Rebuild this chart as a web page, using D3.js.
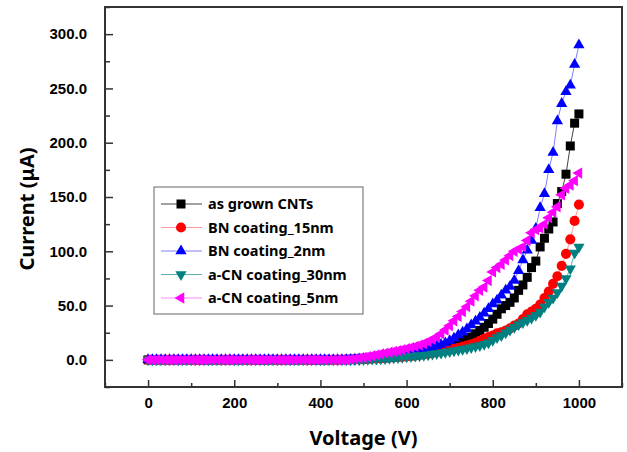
<!DOCTYPE html>
<html lang="en">
<head>
<meta charset="UTF-8">
<title>I-V curves</title>
<script src="https://d3js.org/d3.v7.min.js"></script>
<style>
  body { margin: 0; background: #fff; }
  .tick text { font-family: "Liberation Sans", Arial, sans-serif; font-weight: bold; font-size: 15px; fill: #000; }
  .title { font-family: "Noto Sans", "Open Sans", sans-serif; font-weight: bold; font-size: 20px; fill: #000; }
  .legend text { font-family: "Noto Sans", "Open Sans", sans-serif; font-weight: bold; font-size: 14.5px; fill: #000; }
</style>
</head>
<body>
<svg id="chart" width="627" height="452"></svg>
<script>
// voltage sweep (V)
const voltage = [0,10,20,30,40,50,60,70,80,90,
  100,110,120,130,140,150,160,170,180,190,
  200,210,220,230,240,250,260,270,280,290,
  300,310,320,330,340,350,360,370,380,390,
  400,410,420,430,440,450,460,470,480,490,
  500,510,520,530,540,550,560,570,580,590,
  600,610,620,630,640,650,660,670,680,690,
  700,710,720,730,740,750,760,770,780,790,
  800,810,820,830,840,850,860,870,880,890,
  900,910,920,930,940,950,960,970,980,990,
  1000];

// current (uA) per sample
const asGrown = [0,0,0,0,0,0,0,0,0,0, 0,0,0,0,0,0,0,0,0,0, 0,0,0,0,0,0,0,0,0,0, 0,0,0,0,0,0,0,0,0,0,
  0.1,0.1,0.2,0.2,0.3,0.3,0.4,0.5,0.6,0.7,
  0.8,1.0,1.2,1.4,1.7,2.0,2.3,2.7,3.1,3.5,
  4.0,4.6,5.2,6.0,6.9,7.8,8.9,9.8,10.8,11.8,
  12.8,13.8,15.0,16.6,18.8,21.0,24.0,27.0,30.0,33.5,
  37.5,42.0,47.0,50.0,53.0,57.0,64.0,69.0,76.0,85.0,
  91.0,104.0,112.0,120.5,127.0,144.0,155.0,171.0,197.0,218.0,
  226.5];
const bn15 = [0,0,0,0,0,0,0,0,0,0, 0,0,0,0,0,0,0,0,0,0, 0,0,0,0,0,0,0,0,0,0, 0,0,0,0,0,0,0,0,0,0,
  0,0,0,0,0,0.1,0.2,0.3,0.4,0.5,
  0.6,0.8,1.0,1.2,1.4,1.6,1.9,2.2,2.5,2.8,
  3.1,3.5,3.9,4.4,5.0,5.6,6.3,7.0,7.8,8.5,
  9.3,10.2,11.1,12.1,13.2,14.4,15.6,17.5,19.5,21.0,
  22.5,24.5,25.5,27.0,29.0,31.5,33.5,37.5,42.0,44.5,
  47.0,51.0,57.0,63.0,70.0,77.0,86.6,97.6,111.0,128.0,
  143.0];
const bn2 = [0,0,0,0,0,0,0,0,0,0, 0,0,0,0,0,0,0,0,0,0, 0,0,0,0,0,0,0,0,0,0, 0,0,0,0,0,0,0,0,0,0,
  0,0,0,0,0,0.1,0.2,0.3,0.5,0.7,
  0.9,1.1,1.4,1.7,2.0,2.4,2.8,3.2,3.7,4.2,
  4.8,5.5,6.3,7.2,8.5,10.0,11.5,12.8,14.2,15.6,
  17.5,20.0,23.0,25.5,28.5,32.0,35.5,39.0,43.0,47.0,
  51.5,55.0,59.5,64.0,67.5,73.0,82.0,92.0,101.0,110.0,
  121.0,140.0,153.0,175.0,191.0,220.0,236.0,247.0,253.0,272.0,
  290.0];
const acn30 = [0,0,0,0,0,0,0,0,0,0, 0,0,0,0,0,0,0,0,0,0, 0,0,0,0,0,0,0,0,0,0, 0,0,0,0,0,0,0,0,0,0,
  0,0,0,0,0,0,0,0,0,0,
  0.3,0.5,0.7,0.9,1.1,1.3,1.6,1.9,2.2,2.5,
  2.8,3.1,3.5,3.9,4.3,4.8,5.3,5.8,6.4,7.0,
  7.6,8.3,9.0,9.7,10.5,11.3,12.2,13.2,14.3,15.8,
  18.0,20.5,22.5,25.0,27.5,30.0,32.5,34.5,36.5,38.5,
  41.0,44.0,49.0,53.0,57.0,62.0,68.0,75.0,84.0,98.5,
  104.0];
const acn5 = [0,0,0,0,0,0,0,0,0,0, 0,0,0,0,0,0,0,0,0,0, 0,0,0,0,0,0,0,0,0,0, 0,0,0,0,0,0,0,0,0,0,
  0,0,0,0,0,0,0,0.5,1.0,1.6,
  2.3,3.0,3.8,4.6,5.4,6.2,7.0,7.8,8.6,9.4,
  10.3,11.3,12.4,13.6,15.0,16.8,18.8,21.0,24.0,27.5,
  31.5,36.0,40.0,44.5,49.0,54.0,59.0,64.0,67.0,73.0,
  81.0,85.0,88.0,92.0,96.0,100.0,102.0,104.0,110.0,117.0,
  120.0,121.5,125.0,131.0,136.0,141.0,152.0,158.0,161.0,165.0,
  172.0];

const seriesNames = ["as grown CNTs", "BN coating_15nm", "BN coating_2nm", "a-CN coating_30nm", "a-CN coating_5nm"];
const xTicks = [0, 200, 400, 600, 800, 1000];
const yTicks = [0, 50, 100, 150, 200, 250, 300];

// styling per series
const series = [
  {name: seriesNames[0], values: asGrown, color: "#000000", line: "#444444", shape: d3.symbolSquare, size: 81, rot: 0},
  {name: seriesNames[1], values: bn15, color: "#ff0000", line: "#ff9a9a", shape: d3.symbolCircle, size: 80, rot: 0},
  {name: seriesNames[2], values: bn2, color: "#0000ff", line: "#8080ff", shape: d3.symbolTriangle, size: 55, rot: 0},
  {name: seriesNames[3], values: acn30, color: "#008080", line: "#60b0b0", shape: d3.symbolTriangle, size: 55, rot: 180},
  {name: seriesNames[4], values: acn5, color: "#ff00ff", line: "#ff88ff", shape: d3.symbolTriangle, size: 55, rot: -90}
];

const svg = d3.select("#chart");
const pLeft = 105, pRight = 622, pTop = 7, pBottom = 387;

const x = d3.scaleLinear().domain([-100, 1100]).range([pLeft, pRight]);
const y = d3.scaleLinear().domain([-25, 325]).range([pBottom, pTop]);

// series: line then markers
series.forEach(function(s) {
  const pts = voltage.map(function(v, i) { return [v, s.values[i]]; });
  svg.append("path")
    .datum(pts)
    .attr("fill", "none")
    .attr("stroke", s.line)
    .attr("stroke-width", 1)
    .attr("d", d3.line().x(function(d) { return x(d[0]); }).y(function(d) { return y(d[1]); }));
  svg.append("g").selectAll("path").data(pts).enter().append("path")
    .attr("d", d3.symbol().type(s.shape).size(s.size))
    .attr("transform", function(d) { return "translate(" + x(d[0]) + "," + y(d[1]) + ") rotate(" + s.rot + ")"; })
    .attr("fill", s.color);
});

// axes, ticks pointing inward
svg.append("g").attr("transform", "translate(0," + pBottom + ")")
  .call(d3.axisBottom(x).tickValues(xTicks).tickSize(-7).tickPadding(10).tickFormat(d3.format("d")));
svg.append("g").attr("transform", "translate(0," + pBottom + ")")
  .call(d3.axisBottom(x).tickValues([-100, 100, 300, 500, 700, 900, 1100]).tickSize(-4).tickFormat(""));
svg.append("g").attr("transform", "translate(" + pLeft + ",0)")
  .call(d3.axisLeft(y).tickValues(yTicks).tickSize(-8).tickPadding(18).tickFormat(d3.format(".1f")));
svg.append("g").attr("transform", "translate(" + pLeft + ",0)")
  .call(d3.axisLeft(y).tickValues([-25, 25, 75, 125, 175, 225, 275, 325]).tickSize(-5).tickFormat(""));
svg.selectAll(".domain").remove();
svg.selectAll(".tick line").attr("stroke", "#333").attr("stroke-width", 1.5);

// frame
svg.append("rect")
  .attr("x", pLeft).attr("y", pTop)
  .attr("width", pRight - pLeft).attr("height", pBottom - pTop)
  .attr("fill", "none").attr("stroke", "#333").attr("stroke-width", 2);

// titles
svg.append("text").attr("class", "title")
  .attr("x", (pLeft + pRight) / 2).attr("y", 445)
  .attr("text-anchor", "middle").text("Voltage (V)");
svg.append("text").attr("class", "title")
  .attr("transform", "translate(34," + 209 + ") rotate(-90)")
  .attr("text-anchor", "middle").text("Current (μA)");

// legend
const legend = svg.append("g").attr("class", "legend");
legend.append("rect")
  .attr("x", 154).attr("y", 187).attr("width", 209).attr("height", 127)
  .attr("fill", "#fff").attr("stroke", "#666").attr("stroke-width", 1);
series.forEach(function(s, i) {
  const cy = 204 + i * 23.5;
  legend.append("line").attr("x1", 161).attr("x2", 202).attr("y1", cy).attr("y2", cy)
    .attr("stroke", s.line).attr("stroke-width", 1);
  legend.append("path")
    .attr("d", d3.symbol().type(s.shape).size(s.size))
    .attr("transform", "translate(181," + cy + ") rotate(" + s.rot + ")")
    .attr("fill", s.color);
  legend.append("text").attr("x", 208).attr("y", cy + 5).text(s.name);
});
</script>
</body>
</html>
